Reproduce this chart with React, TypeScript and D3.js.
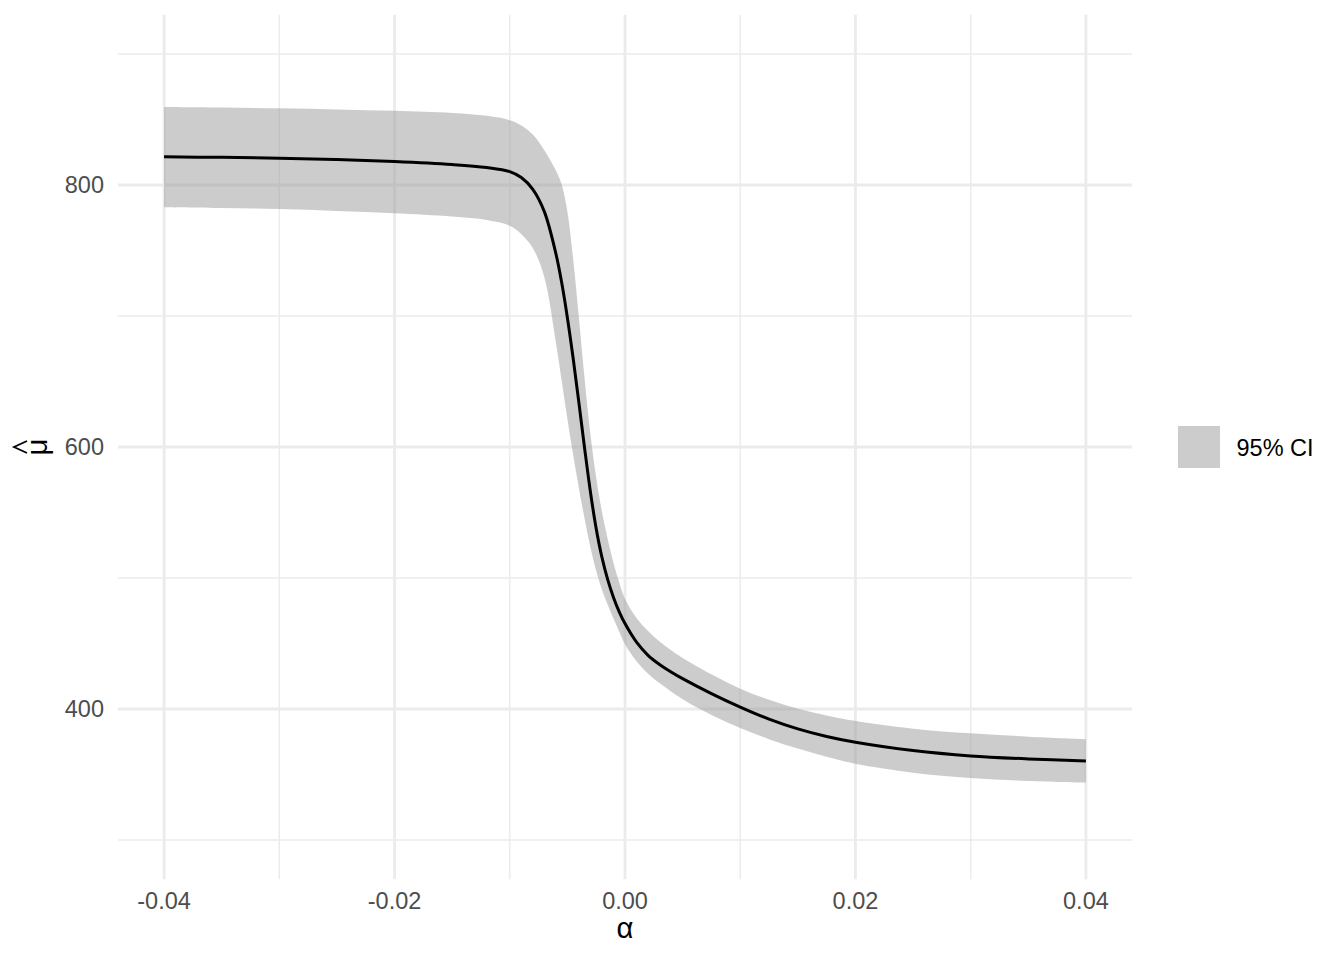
import React from "react";
import * as d3 from "d3";

// alpha grid (denser around the drop)
const alpha = [
  -0.04, -0.035, -0.03, -0.025, -0.02, -0.015, -0.012, -0.01, -0.009, -0.008,
  -0.007, -0.006, -0.0055, -0.005, -0.0045, -0.004, -0.0035, -0.003, -0.0025,
  -0.002, -0.0015, -0.001, -0.0005, 0, 0.001, 0.002, 0.003, 0.004, 0.005,
  0.0075, 0.01, 0.0125, 0.015, 0.0175, 0.02, 0.025, 0.03, 0.035, 0.04,
];

const muHat = [
  821.5, 821.1, 820.5, 819.4, 817.9, 815.6, 813.3, 810.2, 805.7, 796.7,
  779.7, 747.7, 725.7, 698.7, 667.7, 633.7, 598.7, 565.7, 537.7,
  515.7, 498.7, 485.2, 474.2, 465.2, 451, 441, 434, 428.3, 423.2,
  411.8, 401.5, 392.3, 384.8, 379, 374.6, 368.3, 364.2, 361.9, 360.3,
];

const ciLower = [
  783, 782.4, 781.6, 780.2, 778.4, 775.9, 773.2, 768.8, 762.5, 752,
  729.5, 680, 651, 621.5, 594, 568.5, 545, 523.5, 505.5,
  491, 479.5, 469, 459, 449.5, 436.5, 427, 419.8, 413.3, 407.5,
  395.5, 385.5, 377, 369.8, 363.5, 358.2, 351.4, 347.3, 345.1, 343.8,
];

const ciUpper = [
  859.5, 859.1, 858.6, 857.7, 856.6, 855, 852.8, 849.5, 845.5, 838.5,
  826.5, 811, 800.5, 779.5, 743.5, 698.5, 651.5, 609.5, 576.5,
  550.5, 529.5, 511.5, 496.5, 484, 469.5, 459.5, 451.5, 444.8, 439,
  426.5, 415.5, 407, 400.2, 395, 390.8, 385, 381.4, 378.9, 377,
];

const xMajor = [-0.04, -0.02, 0, 0.02, 0.04];
const xMinor = [-0.03, -0.01, 0.01, 0.03];
const yMajor = [400, 600, 800];
const yMinor = [300, 500, 700, 900];

const W = 1344;
const H = 960;
const panel = { left: 118, right: 1132, top: 14.7, bottom: 879.3 };

const tickFont = 23.5;
const titleFont = 29.3;
const font = "'Liberation Sans', Arial, Helvetica, sans-serif";

export default function App() {
  const x = d3.scaleLinear().domain([-0.044, 0.044]).range([panel.left, panel.right]);
  const y = d3.scaleLinear().domain([270, 930]).range([panel.bottom, panel.top]);

  const rows = alpha.map((a, i) => ({ a, m: muHat[i], lo: ciLower[i], hi: ciUpper[i] }));

  const curve = d3.curveCatmullRom.alpha(0.5);

  const area = d3
    .area<any>()
    .x(d => x(d.a))
    .y0(d => y(d.lo))
    .y1(d => y(d.hi))
    .curve(curve);

  const line = d3
    .line<any>()
    .x(d => x(d.a))
    .y(d => y(d.m))
    .curve(curve);

  // ggplot prints a plain hyphen for negatives
  const fmt = (v: number) => d3.format(".2f")(v).replace("\u2212", "-");
  const yMid = (panel.top + panel.bottom) / 2;

  return (
    <svg width={W} height={H} style={{ position: "absolute", left: 0, top: 0, background: "#fff" }}>
      <rect width={W} height={H} fill="#fff" />
      <g>
        {yMinor.map(v => (
          <line key={"ym" + v} x1={panel.left} x2={panel.right} y1={y(v)} y2={y(v)} stroke="#EBEBEB" strokeWidth={1.4} />
        ))}
        {xMinor.map(v => (
          <line key={"xm" + v} x1={x(v)} x2={x(v)} y1={panel.top} y2={panel.bottom} stroke="#EBEBEB" strokeWidth={1.4} />
        ))}
        {yMajor.map(v => (
          <line key={"yM" + v} x1={panel.left} x2={panel.right} y1={y(v)} y2={y(v)} stroke="#EBEBEB" strokeWidth={2.8} />
        ))}
        {xMajor.map(v => (
          <line key={"xM" + v} x1={x(v)} x2={x(v)} y1={panel.top} y2={panel.bottom} stroke="#EBEBEB" strokeWidth={2.8} />
        ))}
      </g>

      <path d={area(rows) ?? ""} fill="#999999" fillOpacity={0.5} />
      <path d={line(rows) ?? ""} fill="none" stroke="#000" strokeWidth={3} strokeLinejoin="round" />

      <g fontFamily={font} fontSize={tickFont} fill="#4D4D4D">
        {xMajor.map(v => (
          <text key={"xt" + v} x={x(v)} y={909} textAnchor="middle">
            {fmt(v)}
          </text>
        ))}
        {yMajor.map(v => (
          <text key={"yt" + v} x={104} y={y(v) + 8.4} textAnchor="end">
            {v}
          </text>
        ))}
      </g>

      <text x={x(0)} y={938} textAnchor="middle" fontFamily={font} fontSize={titleFont} fill="#000">
        α
      </text>
      <g transform={`translate(47,${yMid}) rotate(-90)`}>
        <text x={0} y={0} textAnchor="middle" fontFamily={font} fontSize={titleFont} fill="#000">
          μ
        </text>
        <path d="M-6,-20 L0,-33 L6,-20" fill="none" stroke="#000" strokeWidth={1.8} />
      </g>

      <g>
        <rect x={1178} y={426} width={42} height={42} fill="#999999" fillOpacity={0.5} />
        <text x={1236.5} y={455.5} fontFamily={font} fontSize={tickFont} fill="#000">
          95% CI
        </text>
      </g>
    </svg>
  );
}
